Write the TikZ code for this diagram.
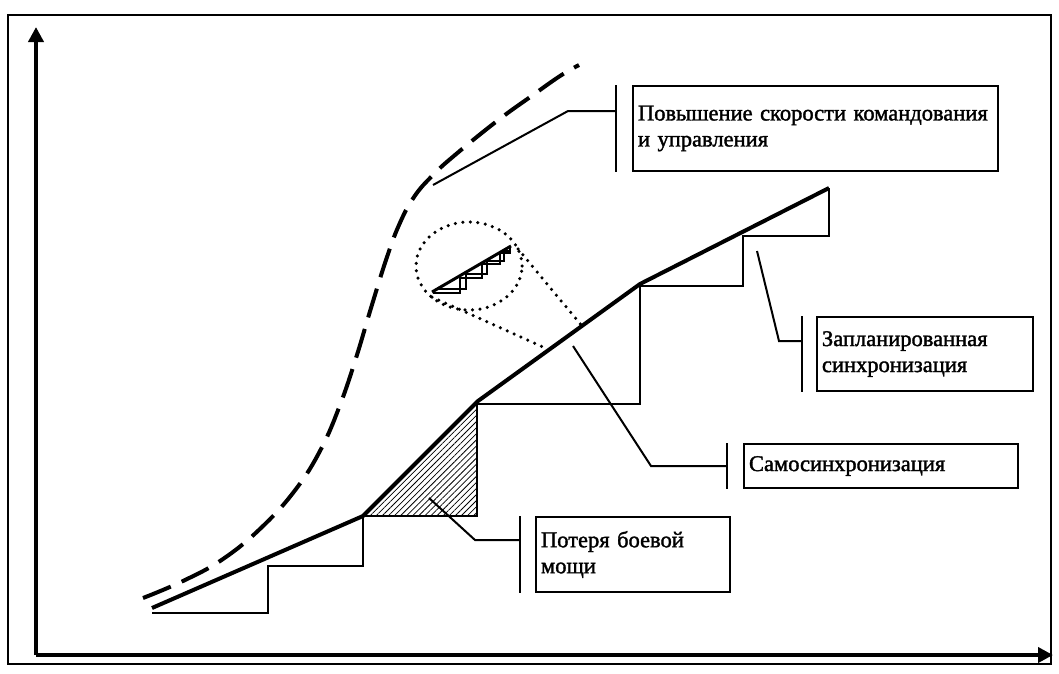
\documentclass[tikz,border=0pt]{standalone}
\usepackage{fontspec}
\setmainfont{Liberation Serif}
\newfontfamily\labelfont{Liberation Serif}[FakeBold=1.6]
\usetikzlibrary{arrows.meta,patterns.meta,calc}
\begin{document}
\begin{tikzpicture}[x=1pt,y=-1pt,
  axis/.style={line width=4pt,-{Triangle[length=15pt,width=15pt]}},
  stairs/.style={line width=2pt,line join=miter},
  trend/.style={line width=4pt,line join=round},
  fastcurve/.style={line width=4pt,dash pattern=on 30pt off 12pt},
  leader/.style={line width=2pt},
  barline/.style={line width=2pt},
  dots/.style={line width=3.5pt,line cap=round,dash pattern=on 0pt off 7.5pt},
  tag/.style={draw,line width=2pt,anchor=north west,align=left,inner xsep=5pt,
    inner ysep=0pt,font=\labelfont\fontsize{22.5}{26}\selectfont}]
\useasboundingbox (0,0) rectangle (1059,673);

% outer frame
\draw[line width=2pt] (8,15) rectangle (1051,664);

% axes
\coordinate (O) at (36,655);
\coordinate (ytip) at (36,27);
\coordinate (xtip) at (1053,655);
\draw[axis] (O) -- (ytip);
\draw[axis] (O) -- (xtip);

% lost combat power (hatched)
\path[pattern={Lines[angle=45,distance=4.3pt,line width=0.8pt]}]
  (363,516) -- (477,402) -- (477,516) -- cycle;

% planned synchronisation: staircase
\draw[stairs] (152,613) -- (268,613) -- (268,566) -- (363,566) -- (363,516)
  -- (477,516) -- (477,404) -- (640,404) -- (640,286) -- (743,286)
  -- (743,236) -- (829,236) -- (829,188);

% self-synchronisation trend
\draw[trend] (152,608) -- (363,516) -- (478,401) -- (640,284) -- (829,188);

% increased speed of command and control
\draw[fastcurve] plot[smooth,tension=0.7] coordinates {
  (143,598) (183,581) (223,559) (262,527) (296,489) (321,449) (340,405)
  (356,358) (371,308) (386,260) (399,225) (414,197) (433,175) (455,155)
  (497,121) (533,95) (560,76) (579,65)};

% magnifier
\draw[dots] (469,266) ellipse [x radius=53pt, y radius=44pt];
\draw[dots] (518,249) -- (582,326);
\draw[dots] (432,297) -- (545,348);
\draw[line width=1.2pt] (433,293) -- (460,293) -- (460,278) -- (482,278)
  -- (482,264) -- (500,264) -- (500,253) -- (510,253) -- (510,247);
\draw[line width=1.2pt] (437,289) -- (466,289) -- (466,274) -- (487,274)
  -- (487,261) -- (504,261) -- (504,251) -- (509,251);
\draw[line width=3pt] (432,292) -- (511,246);

% labels
\node[tag,minimum width=365pt,minimum height=85pt,text width=355pt] (b1) at (632,85)
  {Повышение скорости командования\\и управления};
\node[tag,minimum width=216pt,minimum height=74pt,text width=206pt] (b2) at (816,316)
  {Запланированная\\синхронизация};
\node[tag,minimum width=274pt,minimum height=44pt,text width=264pt] (b3) at (743,443)
  {Самосинхронизация};
\node[tag,minimum width=194pt,minimum height=75pt,text width=184pt] (b4) at (535,516)
  {Потеря боевой\\мощи};

% bars beside the labels
\foreach \b/\d in {b1/16,b2/14,b3/16,b4/15}{
  \coordinate (\b top) at ($(\b.north west)+(-\d,0)$);
  \coordinate (\b bot) at ($(\b.south west)+(-\d,0)$);
  \draw[barline] (\b top) -- (\b bot);
}

% leaders
\coordinate (p1) at (433,185); \coordinate (k1) at (568,111);
\coordinate (p2) at (757,251); \coordinate (k2) at (779,341);
\coordinate (p3) at (573,346); \coordinate (k3) at (651,466);
\coordinate (p4) at (429,498); \coordinate (k4) at (475,540);
\draw[leader] (p1) -- (k1) -- (k1 -| b1top);
\draw[leader] (p2) -- (k2) -- (k2 -| b2top);
\draw[leader] (p3) -- (k3) -- (k3 -| b3top);
\draw[leader] (p4) -- (k4) -- (k4 -| b4top);
\end{tikzpicture}
\end{document}
